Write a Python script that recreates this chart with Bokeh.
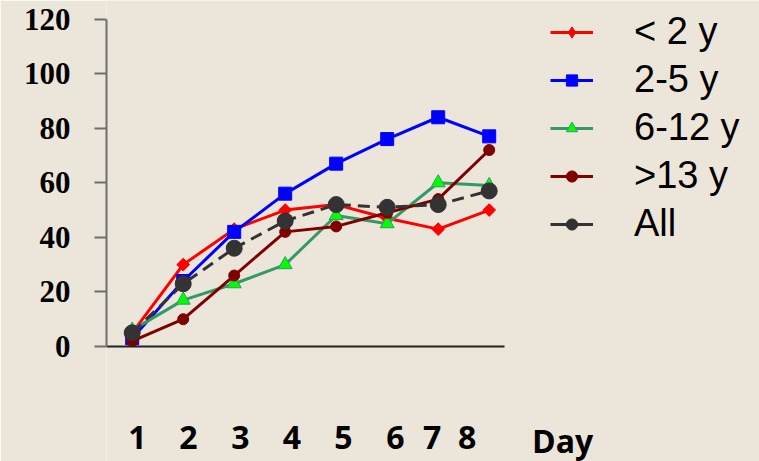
from bokeh.plotting import figure
from bokeh.models import FixedTicker, Legend, LegendItem, Label, Range1d
from bokeh.embed import file_html
from bokeh.resources import INLINE

# Percentage per day of illness, by age group
days = [1, 2, 3, 4, 5, 6, 7, 8]
under_2 = [5, 30, 43, 50, 52, 47, 43, 50]
age_2_5 = [3, 24, 42, 56, 67, 76, 84, 77]
age_6_12 = [6, 17, 23, 30, 48, 45, 60, 59]
over_13 = [2, 10, 26, 42, 44, 49, 54, 72]
all_ages = [5, 23, 36, 46, 52, 51, 52, 57]

series_names = ["< 2 y", "2-5 y", "6-12 y", ">13 y", "All"]
y_ticks = [0, 20, 40, 60, 80, 100, 120]
day_labels = ["1", "2", "3", "4", "5", "6", "7", "8"]
x_title = "Day"

BG = "#ECE6DA"
NAN = float("nan")

# The frame fills everything right of the y axis so the legend and the
# "Day" caption can sit beside / below the plotted area without clipping.
p = figure(
    width=759, height=461,
    x_range=Range1d(0.496, 13.3), y_range=Range1d(-42.14, 126.78),
    min_border_left=106, min_border_right=0,
    min_border_top=0, min_border_bottom=0,
    output_backend="svg", toolbar_location=None,
)
p.background_fill_color = BG
p.border_fill_color = BG
p.outline_line_color = None
p.grid.visible = False

# y axis: grey line, outward ticks, bold serif numbers
ya = p.yaxis[0]
ya.ticker = FixedTicker(ticks=y_ticks)
ya.bounds = (0, 120)
ya.axis_line_color = "#6E6E6E"
ya.axis_line_width = 2
ya.major_tick_line_color = "#6E6E6E"
ya.major_tick_line_width = 2
ya.major_tick_out = 12
ya.major_tick_in = 0
ya.minor_tick_line_color = None
ya.major_label_text_font = "Liberation Serif"
ya.major_label_text_font_style = "bold"
ya.major_label_text_font_size = "31px"
ya.major_label_text_color = "#000000"
ya.major_label_standoff = 24

# x axis: dark baseline at zero, day numbers set well below it
label_pos = [1.10, 2.10, 3.12, 4.13, 5.14, 6.16, 6.88, 7.57]
xa = p.xaxis[0]
xa.fixed_location = 0
xa.bounds = (0.496, 8.3)
xa.ticker = FixedTicker(ticks=label_pos)
xa.major_label_overrides = {pos: lab for pos, lab in zip(label_pos, day_labels)}
xa.axis_line_color = "#222222"
xa.axis_line_width = 2
xa.major_tick_line_color = None
xa.minor_tick_line_color = None
xa.major_tick_out = 0
xa.major_tick_in = 0
xa.major_label_text_font = "Open Sans"
xa.major_label_text_font_style = "bold"
xa.major_label_text_font_size = "32px"
xa.major_label_text_color = "#000000"
xa.major_label_standoff = 80

p.add_layout(Label(
    x=9.44, y=-34.4, text=x_title, text_align="center", text_baseline="middle",
    text_font="Open Sans", text_font_style="bold", text_font_size="32px",
    text_color="#000000",
))

# series
l1 = p.line(days, under_2, line_color="#FF0000", line_width=3)
m1 = p.scatter(days, under_2, marker="square", size=9, angle=0.785,
               fill_color="#FF0000", line_color="#FF0000")

l2 = p.line(days, age_2_5, line_color="#0000FF", line_width=3)
m2 = p.scatter(days, age_2_5, marker="square", size=13,
               fill_color="#0000FF", line_color="#0000FF")

l3 = p.line(days, age_6_12, line_color="#339966", line_width=3)
m3 = p.scatter(days, age_6_12, marker="triangle", size=14,
               fill_color="#00FF00", line_color="#339966", line_width=1)

l4 = p.line(days, over_13, line_color="#800000", line_width=3)
m4 = p.scatter(days, over_13, marker="circle", size=11,
               fill_color="#800000", line_color="#800000")

l5 = p.line(days, all_ages, line_color="#333333", line_width=3, line_dash="12 7")
m5 = p.scatter(days, all_ages, marker="circle", size=16,
               fill_color="#333333", line_color="#333333")

# legend-only keys (undefined position, so nothing shows in the plot):
# a pointed diamond for "< 2 y" and a solid stroke for "All"
k1 = p.scatter(x=[NAN], y=[NAN], marker="diamond",
               fill_color="#FF0000", line_color="#FF0000")
k5 = p.line(x=[NAN, NAN], y=[NAN, NAN], line_color="#333333", line_width=3)

items = [
    LegendItem(label=series_names[0], renderers=[l1, k1]),
    LegendItem(label=series_names[1], renderers=[l2, m2]),
    LegendItem(label=series_names[2], renderers=[l3, m3]),
    LegendItem(label=series_names[3], renderers=[l4, m4]),
    LegendItem(label=series_names[4], renderers=[k5, m5]),
]
legend = Legend(
    items=items, location=(444, 216),
    glyph_width=43, glyph_height=28, label_standoff=41,
    label_text_font="Liberation Sans", label_text_font_size="38px",
    label_text_color="#000000", spacing=5,
    padding=0, margin=0, border_line_color=None, background_fill_alpha=0,
)
p.add_layout(legend, "center")

open("out.html", "w").write(file_html(p, INLINE))
